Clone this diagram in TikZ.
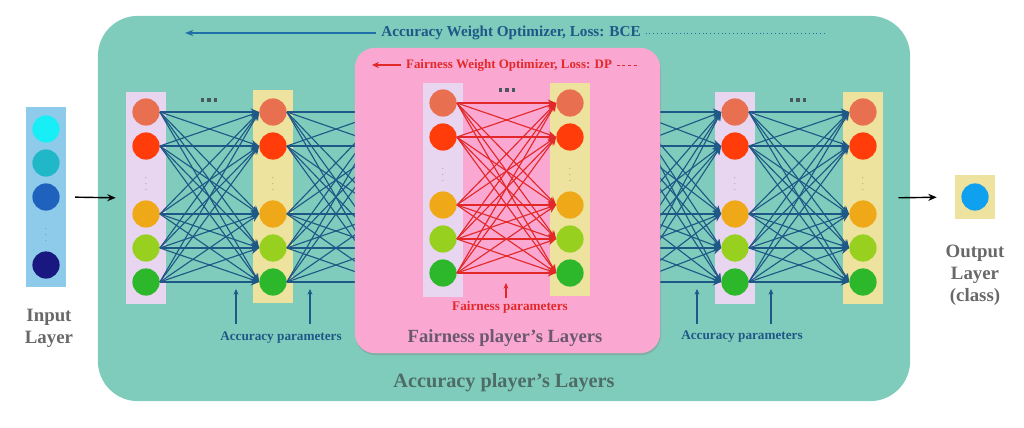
\documentclass[tikz,border=0pt]{standalone}
\usepackage{fontspec}
\setmainfont{Liberation Serif}
\usepackage{xcolor}
\usepackage{tikz}
\usetikzlibrary{arrows.meta, positioning, calc, shadows}
\definecolor{accgreen}{RGB}{128, 204, 188}
\definecolor{fairpink}{RGB}{250, 168, 210}
\definecolor{lavender}{RGB}{232, 214, 240}
\definecolor{paleyellow}{RGB}{238, 227, 158}
\definecolor{inblue}{RGB}{142, 203, 234}
\definecolor{accblue}{RGB}{30, 88, 135}
\definecolor{optblue}{RGB}{32, 112, 168}
\definecolor{fairred}{RGB}{226, 40, 40}
\definecolor{labelgray}{RGB}{104, 104, 104}
\definecolor{fairgray}{RGB}{106, 88, 112}
\definecolor{accgray}{RGB}{78, 108, 102}
\definecolor{dotgray}{RGB}{72, 88, 96}
\definecolor{nsalmon}{RGB}{232, 112, 80}
\definecolor{nred}{RGB}{255, 60, 10}
\definecolor{norange}{RGB}{238, 168, 24}
\definecolor{nlime}{RGB}{152, 208, 32}
\definecolor{ngreen}{RGB}{44, 184, 42}
\definecolor{ncyan}{RGB}{24, 238, 245}
\definecolor{nteal}{RGB}{32, 184, 200}
\definecolor{nblue}{RGB}{30, 98, 190}
\definecolor{nnavy}{RGB}{24, 24, 128}
\definecolor{nsky}{RGB}{16, 160, 240}
\newcommand{\threedots}{\rule{2.4pt}{2.4pt}\hspace{2.2pt}\rule{2.4pt}{2.4pt}\hspace{2.2pt}\rule{2.4pt}{2.4pt}}

\begin{document}
\begin{tikzpicture}[x=0.025cm, y=-0.025cm,
    neuron/.style={circle, minimum size=0.68cm, inner sep=0pt},
    layerbox/.style={rectangle, minimum width=1cm, minimum height=5.3cm, inner sep=0pt},
    hidden/.style={layerbox, fill=lavender},
    outlayer/.style={layerbox, fill=paleyellow},
    vdot/.style={font=\tiny, text=labelgray},
    ellip/.style={text=dotgray, inner sep=0pt},
    accline/.style={draw=accblue, line width=0.8pt, -{Stealth[length=6pt, width=5pt]}},
    accplain/.style={draw=accblue, line width=0.8pt},
    fairline/.style={draw=fairred, line width=0.8pt, -{Stealth[length=6pt, width=5pt]}},
    blackarrow/.style={draw=black, line width=1pt, -{Stealth[length=6pt, width=5pt]}},
    sidelabel/.style={align=center, text=labelgray, font=\bfseries\fontsize{13.4}{15.8}\selectfont},
    paramlabel/.style={font=\bfseries\fontsize{9.4}{11}\selectfont}
]
    \useasboundingbox (0,0) rectangle (1024,427);

    % Accuracy player
    \node[rectangle, rounded corners=1cm, fill=accgreen, minimum width=20.3cm, minimum height=9.63cm] (accplayer) at (504,208.5) {};

    % Input layer
    \node[layerbox, fill=inblue, minimum height=4.5cm] (inlayer) at (46,197) {};
    \foreach \r/\c in {1/ncyan, 2/nteal, 3/nblue, 5/nnavy}
        \node[neuron, fill=\c] (in-\r) at (46,{129+34*(\r-1)}) {};
    \node[vdot] (in-dots) at (46,231) {$\vdots$};

    % Hidden layers of the accuracy player
    \node[hidden] (box1) at (146,198) {};
    \node[outlayer] (box2) at (273,196.5) {};
    \node[hidden] (box3) at (735,198) {};
    \node[outlayer] (box4) at (863,198) {};
    \foreach \l/\x in {1/146, 2/273, 3/735, 4/863} {
        \foreach \r/\c in {1/nsalmon, 2/nred, 4/norange, 5/nlime, 6/ngreen}
            \node[neuron, fill=\c] (h\l-\r) at (\x,{112+34*(\r-1)}) {};
        \node[vdot] (h\l-dots) at (\x,180) {$\vdots$};
    }
    \node[ellip] (dots12) at (209,100) {\threedots};
    \node[ellip] (dots34) at (798,100) {\threedots};

    % Links hidden behind the fairness player
    \foreach \r in {1,2,4,5,6} {
        \coordinate (fin-\r) at (385,{112+34*(\r-1)});
        \coordinate (fout-\r) at (632,{112+34*(\r-1)});
    }

    % Accuracy links
    \foreach \i in {1,2,4,5,6}
        \foreach \j in {1,2,4,5,6} {
            \draw[accline] (h1-\i.east) -- (h2-\j.west);
            \draw[accplain] (h2-\i.east) -- (fin-\j);
            \draw[accline] (fout-\i) -- (h3-\j.west);
            \draw[accline] (h3-\i.east) -- (h4-\j.west);
        }

    % Fairness player
    \node[rectangle, rounded corners=0.5cm, fill=fairpink, minimum width=7.63cm, minimum height=7.63cm,
          drop shadow={opacity=0.35, shadow xshift=0.5pt, shadow yshift=-1.5pt}] (fairplayer) at (507.5,200.5) {};
    \node[hidden, minimum height=5.35cm] (fbox1) at (443,190) {};
    \node[outlayer, minimum height=5.33cm] (fbox2) at (570,189.5) {};
    \foreach \l/\x in {1/443, 2/570} {
        \foreach \r/\c in {1/nsalmon, 2/nred, 4/norange, 5/nlime, 6/ngreen}
            \node[neuron, fill=\c] (f\l-\r) at (\x,{103+34*(\r-1)}) {};
        \node[vdot] (f\l-dots) at (\x,171) {$\vdots$};
    }
    \node[ellip] (dotsf) at (507,90) {\threedots};
    \foreach \i in {1,2,4,5,6}
        \foreach \j in {1,2,4,5,6}
            \draw[fairline] (f1-\i.east) -- (f2-\j.west);

    % Output layer
    \node[layerbox, fill=paleyellow, minimum height=1.1cm] (outlayer) at (975,197) {};
    \node[neuron, fill=nsky] (out-1) at (975,197) {};

    % Input and output arrows
    \draw[blackarrow, shorten <=0.22cm, shorten >=0.25cm] (inlayer.east) -- (box1.west);
    \draw[blackarrow, shorten <=0.38cm, shorten >=0.45cm] (box4.east) -- (outlayer.west);

    % Side labels
    \node[sidelabel] (inlabel) at (49,328) {Input\\Layer};
    \node[sidelabel] (outlabel) at (975,275) {Output\\Layer\\(class)};

    % Optimizers
    \node[text=accblue, font=\bfseries\fontsize{10.8}{12}\selectfont] (accopt) at (511,33) {Accuracy Weight Optimizer, Loss: BCE};
    \coordinate (accopt-tip) at (185,33);
    \coordinate (accopt-tail) at (825,33);
    \draw[draw=optblue, line width=1pt, -{Stealth[length=6pt, width=4.5pt]}] (accopt.west) -- (accopt-tip);
    \draw[draw=optblue, line width=0.7pt, dotted] (accopt.east) -- (accopt-tail);

    \node[text=fairred, font=\bfseries\fontsize{9.2}{11}\selectfont] (fairopt) at (509,65) {Fairness Weight Optimizer, Loss: DP};
    \coordinate (fairopt-tip) at (372,65);
    \coordinate (fairopt-tail) at (638,65);
    \draw[draw=fairred, line width=1pt, -{Stealth[length=5pt, width=4.5pt]}] (fairopt.west) -- (fairopt-tip);
    \draw[draw=fairred, line width=0.6pt, dashed, dash pattern=on 2pt off 2pt] (fairopt.east) -- (fairopt-tail);

    % Parameters
    \node[paramlabel, text=accblue] (accpar1) at (281,338) {Accuracy parameters};
    \node[paramlabel, text=accblue] (accpar2) at (742,337) {Accuracy parameters};
    \node[paramlabel, text=fairred] (fairpar) at (510,307) {Fairness parameters};
    \foreach \n/\x in {a/236, b/310, c/697, d/771} {
        \coordinate (ap-\n-base) at (\x,324);
        \coordinate (ap-\n-tip) at (\x,289);
        \draw[draw=accblue, line width=0.8pt, -{Stealth[length=4pt, width=3.5pt]}] (ap-\n-base) -- (ap-\n-tip);
    }
    \coordinate (fp-base) at (506,298);
    \coordinate (fp-tip) at (506,283);
    \draw[draw=fairred, line width=0.8pt, -{Stealth[length=4pt, width=3.5pt]}] (fp-base) -- (fp-tip);

    % Player titles
    \node[text=fairgray, font=\bfseries\fontsize{13.2}{15}\selectfont] (fairtitle) at (505,338) {Fairness player’s Layers};
    \node[text=accgray, font=\bfseries\fontsize{14.4}{16}\selectfont] (acctitle) at (504,383) {Accuracy player’s Layers};
\end{tikzpicture}
\end{document}
